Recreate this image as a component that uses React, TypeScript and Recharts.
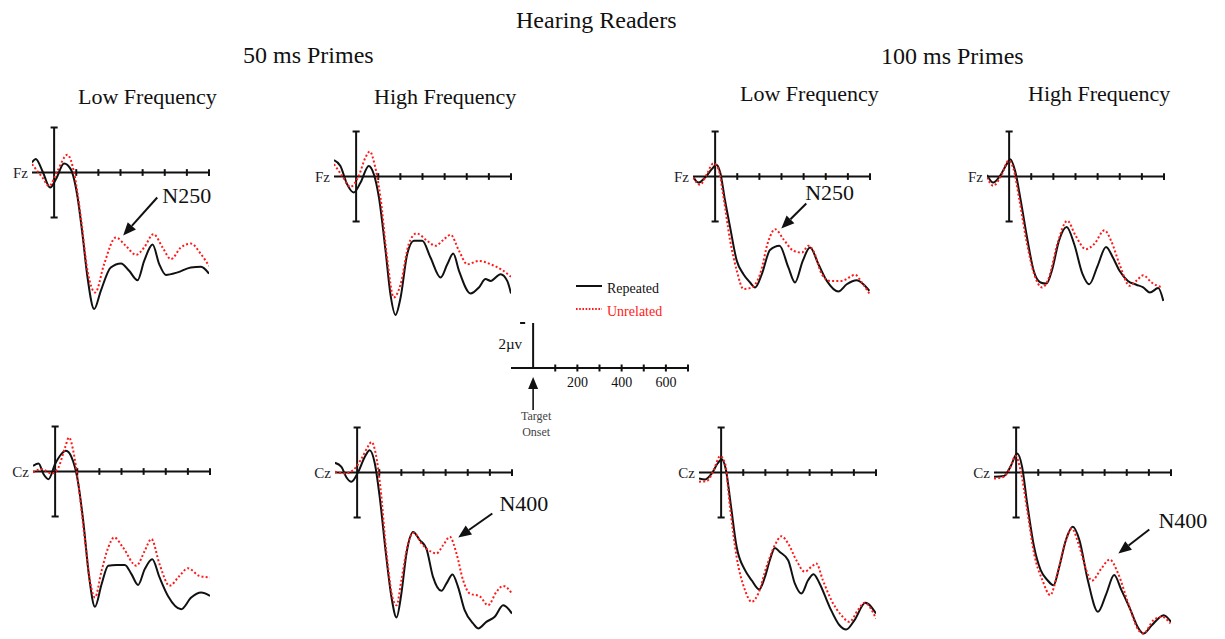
import React from 'react';
import { LineChart, Line, XAxis, YAxis, ReferenceLine, ReferenceDot, Legend } from 'recharts';

type Wave = [number, number][];

// [ms from target onset, amplitude in µV]; negative is plotted upwards
const fzLow50Repeated: Wave = [[-100, -0.45], [-83, -0.6], [-53, -0.07], [-18, 0.67], [8, 0.3], [45, -0.4], [75, -0.15], [106, 1.1], [128, 2.74], [151, 4.67], [181, 6.07], [211, 5.26], [256, 4.22], [302, 4.04], [339, 4.37], [377, 4.79], [407, 3.93], [445, 3.2], [475, 4.07], [505, 4.55], [558, 4.44], [618, 4.22], [664, 4.19], [700, 4.5]];
const fzLow50Unrelated: Wave = [[-100, -0.37], [-53, 0.22], [-23, 0.6], [15, -0.07], [60, -0.79], [90, 0], [121, 2.0], [151, 4.37], [186, 5.33], [226, 4.07], [279, 2.89], [324, 3.26], [370, 3.66], [407, 3.33], [449, 2.74], [490, 3.33], [528, 3.85], [573, 3.33], [618, 3.16], [664, 3.63], [700, 4.15]];

const fzHigh50Repeated: Wave = [[-100, -0.73], [-71, -0.47], [-41, 0.34], [-11, 0.71], [20, 0.27], [57, -0.47], [80, -0.1], [103, 0.93], [133, 3.3], [155, 5.23], [178, 6.15], [201, 5.38], [231, 3.45], [261, 2.86], [299, 2.86], [336, 3.6], [382, 4.49], [412, 3.9], [439, 3.42], [465, 4.19], [517, 5.2], [555, 4.93], [585, 4.56], [608, 4.64], [653, 4.34], [683, 4.64], [700, 5.2]];
const fzHigh50Unrelated: Wave = [[-100, -0.55], [-63, -0.03], [-26, 0.46], [12, -0.03], [42, -0.84], [62, -1.11], [83, -0.55], [110, 0.93], [140, 3.6], [170, 5.38], [201, 4.79], [238, 3.0], [273, 2.53], [321, 2.86], [359, 3.08], [397, 2.79], [427, 2.59], [465, 3.3], [502, 3.9], [555, 3.75], [608, 3.9], [661, 4.16], [700, 4.46]];

const fzLow100Repeated: Wave = [[-100, 0], [-75, 0.27], [-45, 0.04], [-15, -0.33], [5, -0.52], [23, -0.18], [45, 1.08], [68, 2.27], [98, 3.75], [128, 4.34], [158, 4.71], [181, 4.93], [211, 4.34], [248, 3.27], [291, 3.08], [331, 4.04], [361, 4.71], [396, 3.75], [429, 3.16], [467, 3.9], [505, 4.64], [557, 5.11], [595, 4.79], [640, 4.61], [670, 4.79], [697, 5.08]];
const fzLow100Unrelated: Wave = [[-100, 0.04], [-68, 0.37], [-38, -0.1], [-8, -0.58], [15, -0.33], [38, 0.93], [68, 2.86], [98, 4.19], [128, 5.0], [166, 4.93], [203, 4.34], [241, 2.86], [271, 2.34], [309, 2.79], [354, 3.3], [392, 3.38], [422, 3.08], [444, 3.3], [482, 4.34], [520, 4.64], [572, 4.64], [633, 4.37], [663, 4.71], [697, 5.2]];

const fzHigh100Repeated: Wave = [[-100, -0.07], [-72, 0.27], [-41, -0.03], [-11, -0.55], [5, -0.77], [27, -0.25], [50, 0.93], [81, 2.71], [111, 4.19], [142, 4.71], [169, 4.76], [195, 4.12], [225, 2.86], [260, 2.24], [294, 3.0], [332, 4.34], [362, 4.79], [400, 3.97], [438, 3.13], [469, 3.6], [499, 4.19], [537, 4.64], [575, 4.81], [606, 4.93], [636, 5.16], [674, 4.96], [697, 5.53]];
const fzHigh100Unrelated: Wave = [[-100, 0.04], [-72, 0.41], [-33, -0.1], [-3, -0.7], [20, -0.33], [47, 1.08], [81, 3.0], [111, 4.27], [149, 4.93], [180, 4.49], [218, 3.0], [263, 1.97], [301, 2.64], [347, 3.23], [385, 3.0], [431, 2.39], [461, 2.86], [499, 3.9], [545, 4.86], [575, 4.64], [606, 4.39], [644, 4.71], [689, 4.93]];

const czLow50Repeated: Wave = [[-100, -0.25], [-75, -0.36], [-52, 0.12], [-30, 0.34], [0, -0.33], [22, -0.7], [49, -0.92], [75, -0.62], [100, 0.27], [127, 2.19], [154, 4.71], [180, 6.01], [210, 5.01], [240, 4.19], [277, 4.15], [315, 4.15], [345, 4.56], [375, 5.04], [405, 4.34], [439, 3.9], [472, 4.71], [510, 5.53], [570, 6.12], [615, 5.6], [660, 5.38], [700, 5.53]];
const czLow50Unrelated: Wave = [[-100, 0.04], [-60, -0.1], [-15, 0.09], [15, -0.18], [45, -1.07], [63, -1.51], [82, -0.92], [105, 0.56], [135, 3.08], [160, 5.0], [180, 5.6], [210, 4.41], [240, 3.38], [267, 2.93], [307, 3.38], [367, 4.19], [405, 3.53], [435, 3.0], [472, 4.12], [517, 5.08], [562, 4.64], [600, 4.3], [652, 4.64], [700, 4.71]];

const czHigh50Repeated: Wave = [[-100, -0.43], [-71, -0.25], [-48, 0.22], [-26, 0.41], [5, -0.03], [35, -0.7], [57, -0.99], [80, -0.4], [102, 1.08], [130, 3.6], [155, 5.53], [178, 6.44], [200, 5.38], [223, 3.6], [253, 2.64], [283, 3.0], [313, 3.38], [343, 4.64], [381, 5.26], [404, 4.93], [431, 4.53], [456, 5.08], [486, 6.12], [524, 6.71], [547, 6.93], [584, 6.64], [622, 6.41], [660, 5.9], [700, 6.27]];
const czHigh50Unrelated: Wave = [[-100, -0.03], [-56, 0.04], [-18, -0.1], [20, -0.62], [50, -1.17], [65, -1.36], [84, -0.84], [105, 0.64], [133, 3.6], [163, 5.67], [178, 5.9], [200, 4.79], [230, 3.16], [256, 2.68], [291, 3.16], [336, 3.53], [358, 3.6], [389, 3.23], [419, 2.86], [449, 3.6], [479, 4.79], [509, 5.38], [554, 5.5], [592, 5.9], [630, 5.3], [660, 5.04], [700, 5.38]];

const czLow100Repeated: Wave = [[-100, 0.27], [-72, 0.31], [-42, 0.04], [-16, -0.4], [3, -0.59], [22, -0.1], [43, 1.38], [70, 3.3], [108, 4.34], [138, 4.79], [172, 5.2], [198, 4.64], [220, 3.9], [243, 3.35], [265, 3.53], [303, 3.9], [333, 4.93], [363, 5.38], [393, 4.79], [418, 4.52], [445, 4.93], [490, 5.97], [535, 6.79], [565, 6.98], [603, 6.56], [652, 5.79], [700, 6.27]];
const czLow100Unrelated: Wave = [[-100, 0.41], [-64, 0.37], [-34, -0.1], [-4, -0.73], [18, -0.4], [40, 1.53], [70, 3.75], [108, 5.23], [138, 5.75], [168, 5.38], [205, 4.19], [243, 3.23], [273, 2.83], [303, 3.16], [340, 3.9], [378, 4.41], [408, 4.19], [430, 4.04], [460, 4.79], [498, 5.67], [543, 6.34], [580, 6.64], [618, 6.12], [648, 5.79], [700, 6.49]];

const czHigh100Repeated: Wave = [[-100, 0.19], [-56, 0.16], [-26, -0.25], [5, -0.84], [27, -0.25], [50, 1.38], [81, 3.3], [111, 4.34], [142, 4.79], [169, 5.01], [195, 4.19], [225, 3.0], [256, 2.41], [286, 3.0], [324, 4.79], [370, 6.19], [408, 5.38], [443, 4.56], [476, 5.23], [514, 6.04], [553, 6.93], [575, 7.16], [613, 6.79], [667, 6.34], [700, 6.64]];
const czHigh100Unrelated: Wave = [[-100, 0.27], [-56, 0.19], [-26, -0.25], [-3, -0.73], [20, -0.1], [50, 1.67], [81, 3.6], [119, 4.79], [154, 5.45], [187, 4.49], [221, 3.16], [251, 2.49], [286, 3.3], [317, 4.34], [342, 4.81], [385, 4.27], [423, 3.87], [461, 4.49], [507, 5.82], [553, 7.0], [575, 7.16], [621, 6.56], [659, 6.41], [697, 6.71]];

const axisTicks = [100, 200, 300, 400, 500, 600, 700];
const scaleTicks = [0, 100, 200, 300, 400, 500, 600, 700];
const scaleLabels = [200, 400, 600];
const conditions = ['Repeated', 'Unrelated'];

const FONT = "'Liberation Serif', 'Times New Roman', serif";
const INK = '#111';
const RED = '#ff1a1a';
const MS_DOMAIN: [number, number] = [-100, 700];
const UV_DOMAIN: [number, number] = [-2.6, 7.4];
const PX_PER_UV = 22.5;
const PLOT_W = 177;
const PX_PER_MS = PLOT_W / 800;
const PLOT_H = (UV_DOMAIN[1] - UV_DOMAIN[0]) * PX_PER_UV;
const MARGIN = { top: 10, right: 70, bottom: 10, left: 40 };

type Note = { text: string; at: [number, number]; from: [number, number]; to: [number, number] };
type Panel = { site: string; x0: number; y0: number; repeated: Wave; unrelated: Wave; note?: Note };

const panels: Panel[] = [
  { site: 'Fz', x0: 54, y0: 172, repeated: fzLow50Repeated, unrelated: fzLow50Unrelated,
    note: { text: 'N250', at: [489, 1.02], from: [466, 1.11], to: [312, 2.8] } },
  { site: 'Fz', x0: 356, y0: 176, repeated: fzHigh50Repeated, unrelated: fzHigh50Unrelated },
  { site: 'Fz', x0: 715, y0: 176, repeated: fzLow100Repeated, unrelated: fzLow100Unrelated,
    note: { text: 'N250', at: [407, 0.71], from: [412, 1.2], to: [299, 2.31] } },
  { site: 'Fz', x0: 1009, y0: 176, repeated: fzHigh100Repeated, unrelated: fzHigh100Unrelated },
  { site: 'Cz', x0: 55, y0: 471, repeated: czLow50Repeated, unrelated: czLow50Unrelated },
  { site: 'Cz', x0: 357, y0: 472, repeated: czHigh50Repeated, unrelated: czHigh50Unrelated,
    note: { text: 'N400', at: [643, 1.38], from: [611, 1.82], to: [457, 2.89] } },
  { site: 'Cz', x0: 721, y0: 472, repeated: czLow100Repeated, unrelated: czLow100Unrelated },
  { site: 'Cz', x0: 1016, y0: 472, repeated: czHigh100Repeated, unrelated: czHigh100Unrelated,
    note: { text: 'N400', at: [643, 2.11], from: [602, 2.53], to: [462, 3.6] } },
];

const titles = [
  { text: 'Hearing Readers', left: 516, baseline: 28, size: 24 },
  { text: '50 ms Primes', left: 243, baseline: 63.5, size: 24 },
  { text: '100 ms Primes', left: 881, baseline: 64, size: 24 },
  { text: 'Low Frequency', left: 78, baseline: 104, size: 22 },
  { text: 'High Frequency', left: 374, baseline: 104, size: 22 },
  { text: 'Low Frequency', left: 740, baseline: 101, size: 22 },
  { text: 'High Frequency', left: 1028, baseline: 101, size: 22 },
];

const toPoints = (w: Wave) => w.map(([t, v]) => ({ t, v }));

// line with a filled head at its second end point
const ArrowShape = (props: any) => {
  const { x1, y1, x2, y2 } = props;
  const dx = x2 - x1;
  const dy = y2 - y1;
  const len = Math.hypot(dx, dy) || 1;
  const ux = dx / len;
  const uy = dy / len;
  const bx = x2 - ux * 13;
  const by = y2 - uy * 13;
  const head = `${x2},${y2} ${bx - uy * 5.5},${by + ux * 5.5} ${bx + uy * 5.5},${by - ux * 5.5}`;
  return (
    <g>
      <line x1={x1} y1={y1} x2={bx} y2={by} stroke={INK} strokeWidth={2} />
      <polygon points={head} fill={INK} />
    </g>
  );
};

const axisStroke = { stroke: INK, strokeWidth: 2 };

function ErpPanel({ panel }: { panel: Panel }) {
  const left = panel.x0 + MS_DOMAIN[0] * PX_PER_MS - MARGIN.left;
  const top = panel.y0 + UV_DOMAIN[0] * PX_PER_UV - MARGIN.top;
  const note = panel.note;
  return (
    <div style={{ position: 'absolute', left, top }}>
      <LineChart
        width={PLOT_W + MARGIN.left + MARGIN.right}
        height={PLOT_H + MARGIN.top + MARGIN.bottom}
        margin={MARGIN}
      >
        <XAxis type="number" dataKey="t" domain={MS_DOMAIN} allowDataOverflow hide />
        <YAxis type="number" domain={UV_DOMAIN} reversed allowDataOverflow hide />
        <ReferenceLine y={0} {...axisStroke} />
        {axisTicks.map((t) => (
          <ReferenceLine key={t} segment={[{ x: t, y: -0.15 }, { x: t, y: 0.15 }]} {...axisStroke} />
        ))}
        <ReferenceLine segment={[{ x: 0, y: -2 }, { x: 0, y: 2 }]} {...axisStroke} />
        <ReferenceLine segment={[{ x: -16, y: -2 }, { x: 16, y: -2 }]} {...axisStroke} />
        <ReferenceLine segment={[{ x: -16, y: 2 }, { x: 16, y: 2 }]} {...axisStroke} />
        <ReferenceDot
          x={MS_DOMAIN[0]}
          y={0}
          r={0}
          fill="none"
          stroke="none"
          label={{ value: panel.site, position: 'left', offset: 4, fill: '#1d1d2b', fontSize: 15, fontFamily: FONT }}
        />
        <Line data={toPoints(panel.repeated)} dataKey="v" type="monotone" stroke={INK} strokeWidth={2}
          dot={false} activeDot={false} isAnimationActive={false} />
        <Line data={toPoints(panel.unrelated)} dataKey="v" type="monotone" stroke={RED} strokeWidth={2}
          strokeDasharray="2 2.2" dot={false} activeDot={false} isAnimationActive={false} />
        {note && (
          <ReferenceLine
            segment={[{ x: note.from[0], y: note.from[1] }, { x: note.to[0], y: note.to[1] }]}
            shape={ArrowShape}
          />
        )}
        {note && (
          <ReferenceDot
            x={note.at[0]}
            y={note.at[1]}
            r={0}
            fill="none"
            stroke="none"
            label={{ value: note.text, position: 'right', offset: 0, fill: INK, fontSize: 22, fontFamily: FONT }}
          />
        )}
      </LineChart>
    </div>
  );
}

// time axis of the calibration chart: cross ticks, labels and the onset arrow
const ScaleTick = (props: any) => {
  const { x, y, payload } = props;
  const value = payload.value;
  if (value === 0) {
    return (
      <g>
        <line x1={x} x2={x} y1={y + 19} y2={y + 42} stroke={INK} strokeWidth={1.6} />
        <polygon points={`${x},${y + 9} ${x - 5},${y + 21} ${x + 5},${y + 21}`} fill={INK} />
        <text x={x + 3} y={y + 52} textAnchor="middle" fontSize={12} fontFamily={FONT} fill="#444">Target</text>
        <text x={x + 3} y={y + 68} textAnchor="middle" fontSize={12} fontFamily={FONT} fill="#444">Onset</text>
      </g>
    );
  }
  return (
    <g>
      <line x1={x} x2={x} y1={y - 3.5} y2={y + 3.5} stroke={INK} strokeWidth={2} />
      {scaleLabels.includes(value) && (
        <text x={x} y={y + 19} textAnchor="middle" fontSize={14} fontFamily={FONT} fill={INK}>{value}</text>
      )}
    </g>
  );
};

const ScaleLegend = () => (
  <svg width={100} height={44} style={{ display: 'block' }}>
    {conditions.map((name, i) => {
      const cy = 8 + i * 23;
      const color = i === 0 ? INK : RED;
      return (
        <g key={name}>
          <line x1={0} x2={26} y1={cy} y2={cy} stroke={color} strokeWidth={i === 0 ? 2 : 1.8}
            strokeDasharray={i === 0 ? undefined : '1.6 1.6'} />
          <text x={31} y={cy + 7} fontSize={14} fontFamily={FONT} fill={color}>{name}</text>
        </g>
      );
    })}
  </svg>
);

function ScaleChart() {
  const scaleDomain: [number, number] = [-2.4, 0];
  const x0 = 533;
  const y0 = 368;
  const margin = { top: 44, right: 20, bottom: 0, left: 20 };
  const axisHeight = 76;
  const plotH = -scaleDomain[0] * PX_PER_UV;
  const left = x0 + MS_DOMAIN[0] * PX_PER_MS - margin.left;
  const top = y0 - plotH - margin.top;
  return (
    <div style={{ position: 'absolute', left, top }}>
      <LineChart
        width={PLOT_W + margin.left + margin.right}
        height={plotH + margin.top + margin.bottom + axisHeight}
        margin={margin}
        data={scaleTicks.map((t) => ({ t }))}
      >
        <XAxis
          type="number"
          dataKey="t"
          domain={MS_DOMAIN}
          allowDataOverflow
          ticks={scaleTicks}
          interval={0}
          height={axisHeight}
          axisLine={axisStroke}
          tickLine={false}
          tickSize={0}
          tickMargin={0}
          tick={<ScaleTick />}
        />
        <YAxis type="number" domain={scaleDomain} reversed allowDataOverflow hide />
        <ReferenceLine segment={[{ x: 0, y: 0 }, { x: 0, y: -2 }]} {...axisStroke} />
        <ReferenceLine segment={[{ x: -59, y: -2 }, { x: -36, y: -2 }]} {...axisStroke} />
        <ReferenceDot
          x={0}
          y={-1.1}
          r={0}
          fill="none"
          stroke="none"
          label={{ value: '2µv', position: 'left', offset: 11, fill: INK, fontSize: 15, fontFamily: FONT }}
        />
        <Legend
          layout="vertical"
          align="center"
          verticalAlign="middle"
          wrapperStyle={{ left: 576 - left, top: 278 - top, width: 100 }}
          content={() => <ScaleLegend />}
        />
      </LineChart>
    </div>
  );
}

export default function App() {
  return (
    <div
      style={{
        position: 'absolute',
        left: 0,
        top: 0,
        width: 1225,
        height: 639,
        overflow: 'hidden',
        background: '#fff',
        fontFamily: FONT,
        color: INK,
      }}
    >
      {titles.map((t, i) => (
        <div
          key={i}
          style={{
            position: 'absolute',
            left: t.left,
            top: t.baseline - 0.8375 * t.size,
            fontSize: t.size,
            lineHeight: `${t.size}px`,
            whiteSpace: 'nowrap',
          }}
        >
          {t.text}
        </div>
      ))}
      {panels.map((p, i) => (
        <ErpPanel key={i} panel={p} />
      ))}
      <ScaleChart />
    </div>
  );
}
